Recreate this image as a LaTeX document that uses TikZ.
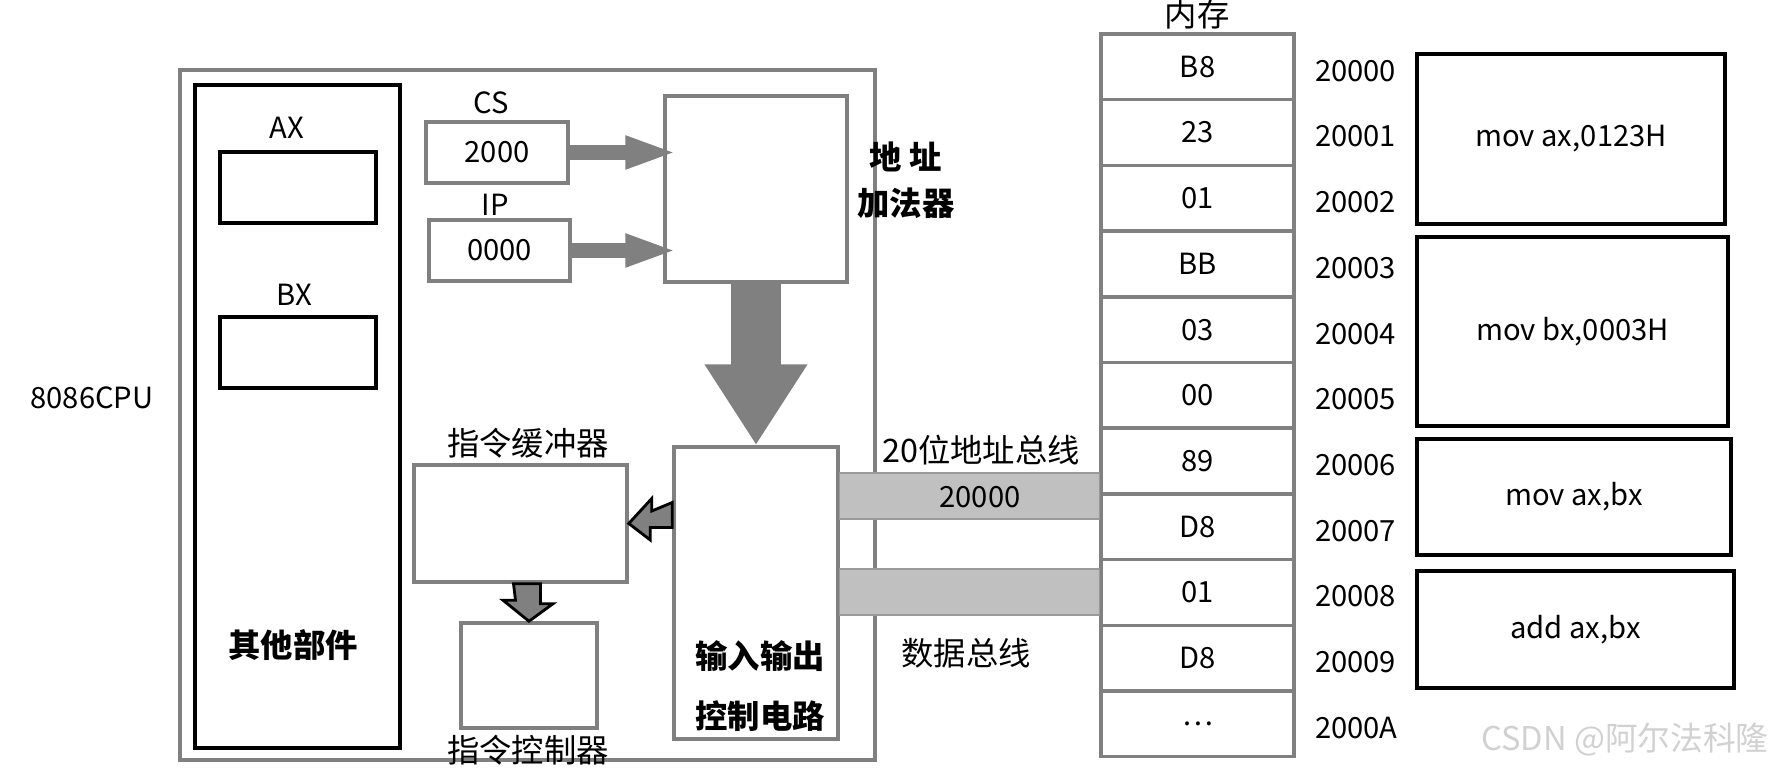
\documentclass[tikz,border=0pt]{standalone}
\usepackage{fontspec}
\setmainfont{Noto Sans CJK SC}
\usetikzlibrary{arrows.meta,positioning}

\definecolor{boxgray}{HTML}{808080}
\definecolor{busgray}{HTML}{C0C0C0}

\begin{document}
\begin{tikzpicture}[
  gbox/.style={draw=boxgray, line width=1pt, inner sep=0pt},
  kbox/.style={draw=black, line width=1.1pt, inner sep=0pt},
  lat/.style={font=\fontsize{8.3}{10}\selectfont},
  cjk/.style={font=\fontsize{9.2}{11}\selectfont},
  cjkb/.style={font=\fontsize{9.2}{11}\bfseries\selectfont},
  cell/.style={gbox, lat, minimum width=1.93cm, minimum height=0.657cm},
  fat/.style={draw=boxgray, line width=4.3pt, -{Triangle[length=14.8pt,width=8.5pt]}},
  hollow/.style={fill=boxgray, draw=black, line width=0.8pt, line join=miter},
  bus/.style={fill=busgray, draw=black!40, line width=0.4pt}
]
  \useasboundingbox (0,0) rectangle (17.85,-7.69);

  % CPU
  \node[gbox, minimum width=6.95cm, minimum height=6.90cm] (cpu) at (5.275,-4.15) {};
  \node[lat] (cpulabel) at (0.92,-3.98) {8086CPU};
  \node[kbox, minimum width=2.05cm, minimum height=6.63cm] (others) at (2.975,-4.165) {};
  \node[cjkb] (otherslabel) at (2.93,-6.45) {其他部件};
  \node[kbox, minimum width=1.56cm, minimum height=0.71cm] (axreg) at (2.98,-1.875) {};
  \node[lat] (axlabel) at (2.87,-1.28) {AX};
  \node[kbox, minimum width=1.56cm, minimum height=0.71cm] (bxreg) at (2.98,-3.525) {};
  \node[lat] (bxlabel) at (2.94,-2.95) {BX};

  \node[gbox, lat, minimum width=1.42cm, minimum height=0.61cm] (csreg) at (4.97,-1.525) {2000};
  \node[lat] (cslabel) at (4.91,-1.03) {CS};
  \node[gbox, lat, minimum width=1.41cm, minimum height=0.61cm] (ipreg) at (4.995,-2.505) {0000};
  \node[lat] (iplabel) at (4.95,-2.05) {IP};

  \node[gbox, minimum width=1.82cm, minimum height=1.86cm] (adder) at (7.56,-1.89) {};
  \node[cjkb, align=center] (adderlabel) at (9.06,-1.80) {地 址\\[2pt]加法器};

  \node[gbox, minimum width=2.13cm, minimum height=1.17cm] (ibuf) at (5.205,-5.235) {};
  \node[cjk] (ibuflabel) at (5.28,-4.43) {指令缓冲器};
  \node[gbox, minimum width=1.36cm, minimum height=1.05cm] (ictrl) at (5.29,-6.755) {};
  \node[cjk] (ictrllabel) at (5.28,-7.50) {指令控制器};

  \node[gbox, minimum width=1.64cm, minimum height=2.92cm] (ioctl) at (7.56,-5.93) {};
  \node[cjkb, align=center] (iolabel) at (7.60,-6.86) {输入输出\\[6pt]控制电路};

  % arrows inside the CPU
  \draw[fat] (csreg.east) -- ([xshift=4pt]adder.west |- csreg.east);
  \draw[fat] (ipreg.east) -- ([xshift=4pt]adder.west |- ipreg.east);
  \draw[draw=boxgray, line width=14.2pt, -{Triangle[length=23pt,width=27.6pt]}]
    (adder.south) -- (ioctl.north);
  \filldraw[hollow] (ibuf.east) -- ++(0.23,0.25) -- ++(0,-0.125) -- (ioctl.west |- 0,-5.025)
    -- ++(0,-0.25) -- ++(-0.22,0) -- ++(0,-0.125) -- cycle;
  \filldraw[hollow] (ictrl.north) -- ++(-0.26,0.21) -- ++(0.125,0) -- (ibuf.south -| 5.135,0)
    -- ++(0.27,0) -- ++(0,-0.20) -- ++(0.125,0) -- cycle;

  % memory
  \node[cjk] (memlabel) at (11.97,-0.14) {内存};
  \foreach \v/\a [count=\i] in {B8/20000,23/20001,01/20002,BB/20003,03/20004,00/20005,
      89/20006,D8/20007,01/20008,D8/20009,\ldots/2000A} {
    \node[cell] (m\i) at (11.975,{-0.34-0.657*(\i-0.5)}) {\v};
    \node[lat, anchor=west] (a\i) at ([xshift=0.07cm,yshift=-0.04cm]m\i.east) {\a};
  }

  % buses
  \draw[bus] (ioctl.east |- 0,-4.73) rectangle (m1.west |- 0,-5.19);
  \draw[bus] (ioctl.east |- 0,-5.69) rectangle (m1.west |- 0,-6.15);
  \node[lat] (addrval) at (9.80,-4.97) {20000};
  \node[cjk] (addrbus) at (9.81,-4.50) {20位地址总线};
  \node[cjk] (databus) at (9.66,-6.53) {数据总线};

  % instructions
  \node[kbox, lat, minimum width=3.08cm, minimum height=1.70cm] (ins1) at (15.71,-1.39) {mov ax,0123H};
  \node[kbox, lat, minimum width=3.11cm, minimum height=1.89cm] (ins2) at (15.725,-3.315) {mov bx,0003H};
  \node[kbox, lat, minimum width=3.14cm, minimum height=1.16cm] (ins3) at (15.74,-4.97) {mov ax,bx};
  \node[kbox, lat, minimum width=3.17cm, minimum height=1.17cm] (ins4) at (15.755,-6.295) {add ax,bx};

  \node[text=black!18, font=\fontsize{9.3}{11}\selectfont] (mark) at (16.25,-7.40) {CSDN @阿尔法科隆};
\end{tikzpicture}
\end{document}
